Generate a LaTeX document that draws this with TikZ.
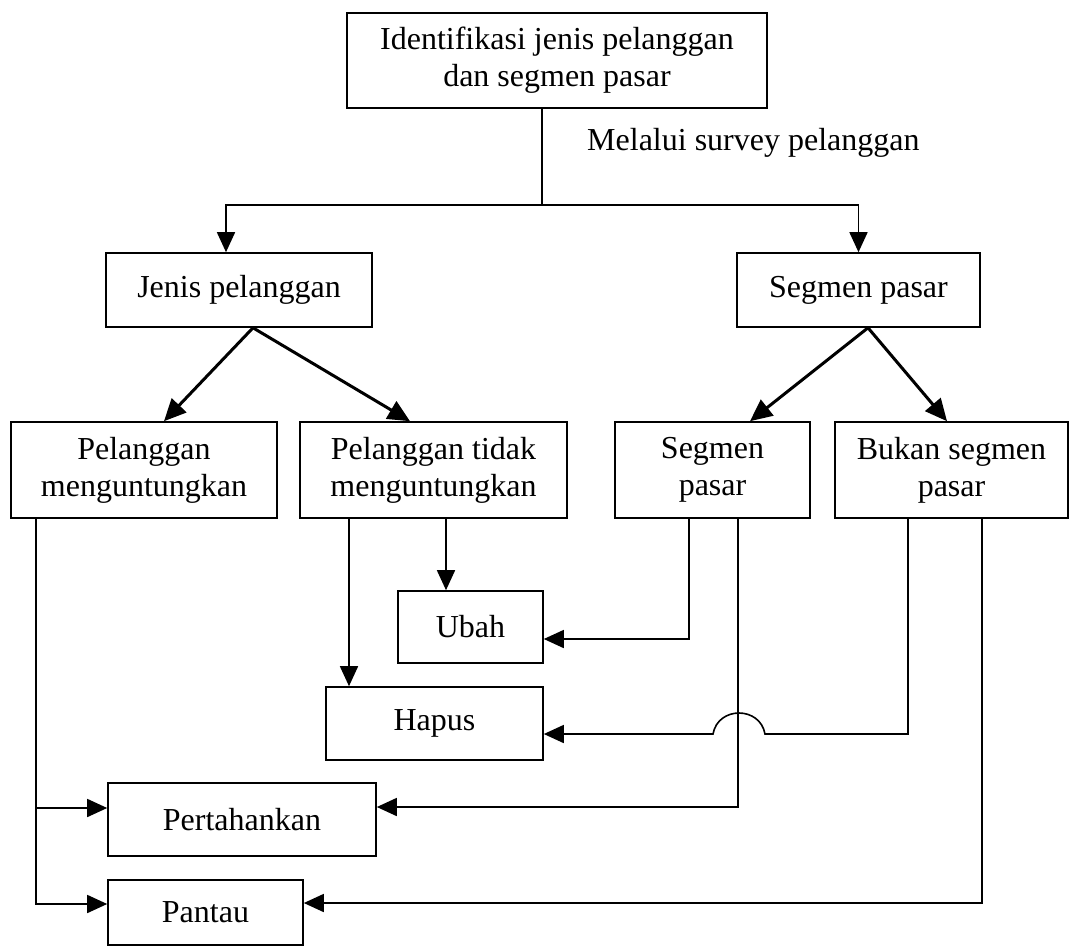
\documentclass[tikz,border=0pt]{standalone}
\usepackage{fontspec}
\setmainfont{Liberation Serif}
\usetikzlibrary{arrows.meta}
\begin{document}
\begin{tikzpicture}[x=1pt,y=-1pt,
  box/.style={draw, line width=1.6pt, inner sep=0pt, align=center, font=\fontsize{32}{37}\selectfont},
  conn/.style={line width=1.6pt},
  arr/.style={conn, -{Triangle[length=20pt,width=18pt]}},
  darr/.style={line width=3pt, -{Triangle[length=22pt,width=20pt]}}]
\useasboundingbox (0,0) rectangle (1070,948);
% nodes
\node[box, minimum width=420pt, minimum height=95pt] (top) at (557,60.5) {Identifikasi jenis pelanggan\\dan segmen pasar};
\node[inner sep=0pt, anchor=base west, font=\fontsize{32}{37}\selectfont] (lbl) at (587,150) {Melalui survey pelanggan};
\node[box, minimum width=266pt, minimum height=74pt] (jenis) at (239,290) {Jenis pelanggan};
\node[box, minimum width=243pt, minimum height=74pt] (seg) at (858.5,290) {Segmen pasar};
\node[box, minimum width=266pt, minimum height=96pt] (pm) at (144,470) {Pelanggan\\menguntungkan};
\node[box, minimum width=267pt, minimum height=96pt] (pt) at (433.5,470) {Pelanggan tidak\\menguntungkan};
\node[box, minimum width=195pt, minimum height=96pt] (sp) at (712.5,470) {Segmen\\pasar};
\node[box, minimum width=233pt, minimum height=96pt] (bsp) at (951.5,470) {Bukan segmen\\pasar};
\node[box, minimum width=145pt, minimum height=72pt] (ubah) at (470.5,627) {Ubah};
\node[box, minimum width=217pt, minimum height=73pt] (hapus) at (434.5,723.5) {Hapus};
\node[box, minimum width=268pt, minimum height=73pt] (pert) at (242,819.5) {Pertahankan};
\node[box, minimum width=195pt, minimum height=65pt] (pantau) at (205.5,912.5) {Pantau};
% helper coordinates
\coordinate (c1) at (542,205);
\coordinate (c2) at (226,205);
\coordinate (d1) at (253,0);
\coordinate (d2) at (164,0);
\coordinate (d3) at (410,0);
\coordinate (d4) at (868,0);
\coordinate (d5) at (750,0);
\coordinate (d6) at (947,0);
\coordinate (a1) at (36,808);
\coordinate (a2) at (36,904);
\coordinate (b1) at (349,0);
\coordinate (b2) at (446,0);
\coordinate (e1) at (689,639);
\coordinate (e2) at (738,807);
\coordinate (f1) at (908,734);
\coordinate (h1) at (765,734);
\coordinate (h2) at (713,734);
\coordinate (g1) at (982,903);
% top split
\draw[conn] (top.south -| c1) -- (c1);
\draw[arr] (c1) -| (jenis.north -| c2);
\draw[arr] (c1) -| (seg.north);
% diagonals
\draw[darr] (jenis.south -| d1) -- (pm.north -| d2);
\draw[darr] (jenis.south -| d1) -- (pt.north -| d3);
\draw[darr] (seg.south -| d4) -- (sp.north -| d5);
\draw[darr] (seg.south -| d4) -- (bsp.north -| d6);
% pelanggan menguntungkan
\draw[conn] (pm.south -| a1) -- (a1);
\draw[arr] (a1) -- (pert.west |- a1);
\draw[arr] (a1) -- (a2) -- (pantau.west |- a2);
% pelanggan tidak menguntungkan
\draw[arr] (pt.south -| b1) -- (hapus.north -| b1);
\draw[arr] (pt.south -| b2) -- (ubah.north -| b2);
% segmen pasar
\draw[arr] (sp.south -| e1) -- (e1) -- (ubah.east |- e1);
\draw[arr] (sp.south -| e2) -- (e2) -- (pert.east |- e2);
% bukan segmen pasar
\draw[arr] (bsp.south -| f1) -- (f1) -- (h1) .. controls (760,706) and (718,706) .. (h2) -- (hapus.east |- h2);
\draw[arr] (bsp.south -| g1) -- (g1) -- (pantau.east |- g1);
\end{tikzpicture}
\end{document}
